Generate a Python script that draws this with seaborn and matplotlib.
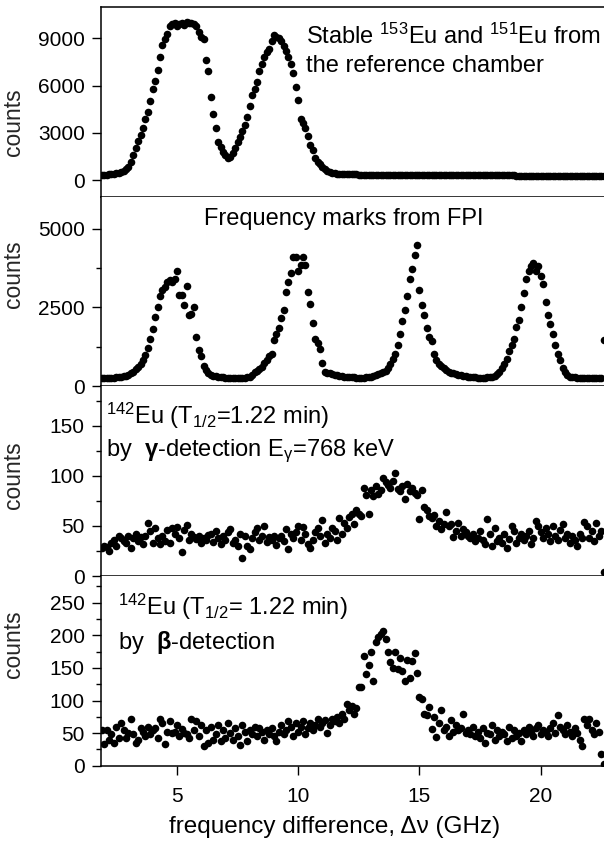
import numpy as np
import matplotlib
matplotlib.use("Agg")
import matplotlib.pyplot as plt
import seaborn as sns

# scan grid (GHz)
freq_ghz = np.round(np.arange(1.9, 22.65, 0.1), 2)

stable_counts = [
    330, 340, 355, 370, 390, 410, 440, 480, 530, 600,
    700, 850, 1150, 1600, 2050, 2500, 2900, 3300, 3900, 4300,
    5000, 5800, 6300, 7000, 7800, 8600, 8950, 9300, 9750, 9900,
    9950, 9800, 9900, 9950, 9850, 10000, 9950, 9950, 9900, 9750,
    9400, 9050, 8950, 7650, 6900, 5300, 4200, 3300, 2400, 2100,
    1800, 1600, 1400, 1500, 1750, 2050, 2400, 2750, 3150, 3500,
    4000, 4700, 5400, 5800, 6200, 6900, 7350, 7800, 8100, 8350,
    8800, 9200, 9100, 9000, 8800, 8500, 8200, 7800, 7400, 6800,
    5900, 5100, 3900, 3600, 3300, 2800, 2250, 1900, 1400, 1150,
    1050, 850, 700, 560, 500, 470, 450, 430, 410, 400,
    390, 385, 380, 376, 372, 368, 364, 360, 357, 354,
    351, 348, 346, 344, 342, 340, 338, 336, 334, 332,
    330, 329, 328, 327, 326, 325, 324, 323, 322, 321,
    320, 320, 319, 319, 318, 318, 317, 317, 316, 316,
    315, 315, 314, 314, 313, 313, 312, 312, 311, 311,
    310, 310, 310, 309, 309, 309, 308, 308, 308, 307,
    307, 307, 306, 306, 306, 305, 305, 305, 304, 304,
    304, 303, 303, 303, 302, 302, 302, 301, 301, 301,
    300, 300, 300, 300, 299, 299, 299, 299, 298, 298,
    298, 298, 297, 297, 297, 297, 296, 296, 296, 296,
    295, 295, 295, 295, 294, 294, 294, 294,
]

fpi_counts = [
    240, 245, 250, 255, 260, 265, 270, 280, 290, 305,
    330, 360, 400, 460, 530, 600, 700, 820, 980, 1200,
    1500, 1800, 2190, 2500, 2850, 3050, 3150, 3300, 3350, 3300,
    3400, 3650, 2900, 2880, 2560, 3180, 2240, 2300, 2500, 1560,
    1130, 950, 640, 500, 420, 360, 330, 310, 295, 285,
    275, 268, 262, 258, 255, 252, 250, 252, 255, 260,
    270, 300, 360, 430, 480, 540, 610, 720, 840, 950,
    1030, 1450, 1650, 1850, 2150, 2400, 3000, 3300, 3600, 4080,
    4080, 3660, 3850, 4100, 3850, 3000, 2600, 2000, 1500, 1350,
    1190, 720, 460, 420, 400, 380, 360, 340, 325, 310,
    300, 290, 282, 275, 270, 268, 265, 265, 268, 272,
    280, 295, 315, 340, 370, 400, 440, 480, 580, 700,
    850, 1030, 1300, 1650, 2050, 2400, 2850, 3400, 3700, 4150,
    4470, 3060, 2560, 2270, 1850, 1560, 1430, 1010, 820, 700,
    620, 560, 500, 460, 420, 400, 380, 360, 340, 320,
    305, 295, 285, 278, 272, 268, 265, 265, 268, 275,
    285, 300, 330, 380, 440, 560, 700, 850, 1100, 1290,
    1500, 1870, 2100, 2500, 2950, 3400, 3660, 3820, 3920, 3660,
    3820, 3500, 3240, 2660, 2270, 1980, 1640, 1290, 1010, 820,
    560, 430, 360, 300, 280, 270, 265, 260, 258, 255,
    252, 250, 250, 250, 252, 255, 260, 1450,
]

gamma_counts = [
    28, 30, 29, 25, 33, 36, 30, 40, 38, 35,
    33, 40, 28, 38, 42, 35, 39, 32, 40, 53,
    45, 33, 48, 38, 32, 40, 35, 46, 33, 48,
    42, 49, 38, 24, 46, 51, 36, 42, 39, 37,
    40, 33, 38, 36, 41, 42, 34, 45, 38, 32,
    40, 36, 44, 47, 33, 36, 30, 42, 18, 40,
    30, 27, 38, 44, 48, 36, 40, 50, 34, 39,
    36, 40, 31, 38, 40, 35, 47, 27, 42, 38,
    44, 50, 36, 49, 42, 32, 28, 36, 44, 48,
    40, 56, 33, 42, 38, 48, 45, 36, 58, 42,
    53, 48, 59, 62, 52, 66, 62, 60, 88, 81,
    62, 86, 80, 90, 82, 86, 98, 94, 91, 88,
    95, 103, 87, 85, 90, 77, 92, 85, 88, 83,
    81, 57, 86, 69, 66, 60, 58, 61, 50, 55,
    47, 52, 64, 50, 52, 39, 45, 53, 40, 47,
    44, 40, 38, 42, 35, 38, 45, 36, 32, 57,
    42, 30, 48, 35, 38, 33, 42, 28, 37, 50,
    45, 33, 38, 42, 36, 40, 45, 32, 38, 55,
    50, 44, 38, 48, 42, 35, 50, 40, 36, 46,
    52, 38, 42, 33, 40, 36, 30, 42, 38, 54,
    50, 38, 45, 35, 53, 40, 45, 4,
]

beta_counts = [
    55, 33, 55, 40, 48, 35, 60, 42, 65, 55,
    42, 50, 72, 48, 35, 40, 58, 52, 45, 60,
    48, 55, 58, 42, 72, 65, 34, 52, 68, 50,
    52, 62, 45, 56, 50, 48, 42, 72, 55, 68,
    45, 62, 30, 55, 35, 60, 40, 48, 62, 38,
    55, 42, 65, 50, 40, 58, 45, 32, 62, 52,
    38, 55, 48, 60, 45, 58, 52, 40, 55, 48,
    58, 45, 38, 52, 62, 48, 55, 68, 60, 45,
    65, 52, 60, 68, 48, 58, 65, 55, 62, 72,
    60, 65, 70, 50, 62, 72, 68, 75, 65, 80,
    72, 95, 85, 92, 80, 88, 120, 120, 168, 140,
    155, 175, 130, 190, 198, 202, 207, 195, 174, 159,
    150, 174, 148, 165, 146, 130, 162, 135, 160, 173,
    142, 105, 102, 80, 78, 90, 57, 75, 44, 65,
    85, 55, 60, 45, 70, 52, 62, 55, 58, 80,
    50, 55, 48, 60, 45, 52, 42, 58, 35, 50,
    48, 62, 40, 55, 45, 52, 48, 38, 60, 42,
    55, 45, 50, 38, 55, 48, 60, 52, 45, 58,
    62, 48, 55, 52, 45, 58, 65, 50, 78, 60,
    55, 48, 62, 52, 45, 58, 50, 40, 30, 72,
    62, 72, 55, 48, 65, 52, 18, 2,
]

series = [stable_counts, fpi_counts, gamma_counts, beta_counts]
ylims = [(-1040, 11000), (0, 6010), (0, 189.5), (0, 291)]
major_ticks = [[0, 3000, 6000, 9000], [0, 2500, 5000], [0, 50, 100, 150],
               [0, 50, 100, 150, 200, 250]]
minor_ticks = [[], [1250, 3750], [25, 75, 125, 175],
               [25, 75, 125, 175, 225, 275]]
label_y = [0.393, 0.589, 0.53, 0.64]

sns.set_theme(style="ticks")
plt.rcParams.update({
    "font.family": ["Liberation Sans", "DejaVu Sans"],
    "mathtext.fontset": "custom",
    "mathtext.rm": "Liberation Sans",
    "mathtext.it": "Liberation Sans:italic",
    "mathtext.bf": "Liberation Sans:bold",
    "axes.linewidth": 1.1,
    "axes.edgecolor": "black",
    "text.color": "black",
    "xtick.color": "black",
    "ytick.color": "black",
})

W, H = 604, 843
fig = plt.figure(figsize=(W / 100, H / 100), dpi=100)
left = 100.7
edges = [6.7, 196.7, 386.0, 576.0, 765.7]
axes = []
for i in range(4):
    top, bot = edges[i], edges[i + 1]
    ax = fig.add_axes([left / W, 1 - bot / H, 1.0 - left / W, (bot - top) / H])
    sns.scatterplot(x=freq_ghz, y=series[i], ax=ax, color="black", s=30,
                    linewidth=0, legend=False)
    ax.set_xlim(1.856, 22.61)
    ax.set_ylim(*ylims[i])
    ax.set_yticks(major_ticks[i])
    ax.set_yticks(minor_ticks[i], minor=True)
    ax.tick_params(axis="y", which="major", direction="out", length=6.5,
                   width=1.0, labelsize=15, pad=5)
    ax.tick_params(axis="y", which="minor", direction="out", length=3.5,
                   width=1.0)
    ax.spines["right"].set_visible(False)
    if i > 0:
        ax.spines["top"].set_visible(False)
    ax.set_ylabel("counts", fontsize=16.5)
    ax.yaxis.set_label_coords(-0.150, label_y[i])
    if i < 3:
        ax.tick_params(axis="x", which="both", bottom=False, labelbottom=False)
        ax.set_xlabel("")
    else:
        ax.set_xticks([5, 10, 15, 20])
        ax.tick_params(axis="x", which="major", direction="out", length=6.5,
                       width=1.0, labelsize=15, pad=9)
        ax.set_xlabel("")
    axes.append(ax)

fs = 17
def ftext(px, py, s, **kw):
    fig.text(px / W, 1 - py / H, s, fontsize=kw.pop("fontsize", fs),
             va="baseline", **kw)

ftext(306, 43.5, r"Stable $^{153}$Eu and $^{151}$Eu from")
ftext(306, 71.5, "the reference chamber")
ftext(344, 225, "Frequency marks from FPI", ha="center")
ftext(106, 423.5, r"$^{142}$Eu (T$_{1/2}$=1.22 min)")
ftext(106, 456.5, r"by  $\mathbf{\gamma}$-detection E$_{\mathrm{\gamma}}$=768 keV")
ftext(117.5, 615, r"$^{142}$Eu (T$_{1/2}$= 1.22 min)")
ftext(117.5, 648.5, r"by  $\mathbf{\beta}$-detection")

fig.text(335 / W, 1 - 827 / H, "frequency difference, \u0394\u03bd (GHz)",
         fontsize=17.5, ha="center", va="center")

fig.savefig("out.png", dpi=100)
